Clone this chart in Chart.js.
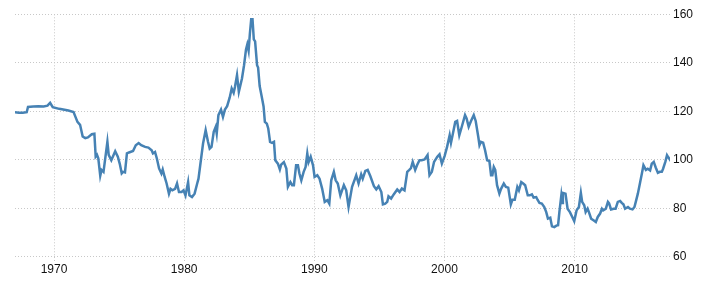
<!DOCTYPE html>
<html lang="en">
<head>
  <meta charset="utf-8">
  <title>Currency index</title>
  <style>
    html, body { margin: 0; padding: 0; background: #fff; }
    #wrap { width: 707px; height: 288px; }
  </style>
</head>
<body>
  <div id="wrap"><canvas id="chart" width="707" height="288"></canvas></div>

  <script src="https://cdn.jsdelivr.net/npm/chart.js@4.4.0/dist/chart.umd.min.js"></script>
  <script>
// values (decimal year, index level)
var years = [
  1967.0, 1967.3, 1967.6, 1967.9, 1968.0, 1968.4, 1968.8, 1969.2, 1969.5, 1969.7, 1969.9,
  1970.4, 1971.1, 1971.5, 1971.6, 1971.8, 1972.0, 1972.2, 1972.4, 1972.6, 1972.9,
  1973.1, 1973.2, 1973.3, 1973.4, 1973.55, 1973.65, 1973.8, 1974.1, 1974.2, 1974.4, 1974.7, 1974.9,
  1975.05, 1975.2, 1975.3, 1975.45, 1975.6, 1975.76, 1976.07, 1976.28, 1976.5, 1976.7,
  1977.0, 1977.25, 1977.5, 1977.6, 1977.76, 1977.9, 1978.07, 1978.25, 1978.35, 1978.5, 1978.65, 1978.83, 1978.95,
  1979.09, 1979.3, 1979.45, 1979.6, 1979.8, 1979.95, 1980.1, 1980.3, 1980.4, 1980.6, 1980.8,
  1981.0, 1981.1, 1981.3, 1981.45, 1981.65, 1981.83, 1981.96, 1982.1, 1982.27, 1982.42, 1982.5, 1982.63, 1982.83, 1982.98,
  1983.13, 1983.3, 1983.5, 1983.65, 1983.8, 1983.9, 1984.06, 1984.2, 1984.44, 1984.6, 1984.75, 1984.85, 1984.95,
  1985.05, 1985.15, 1985.25, 1985.35, 1985.45, 1985.6, 1985.68, 1985.8, 1985.96,
  1986.1, 1986.2, 1986.35, 1986.46, 1986.6, 1986.75, 1986.9, 1987.0, 1987.2, 1987.35, 1987.45, 1987.66, 1987.85, 1987.97,
  1988.16, 1988.3, 1988.43, 1988.6, 1988.74, 1988.85, 1989.0, 1989.18, 1989.33, 1989.46, 1989.56, 1989.72, 1989.9,
  1990.02, 1990.23, 1990.4, 1990.6, 1990.8, 1991.0, 1991.15, 1991.3, 1991.5, 1991.64, 1991.8,
  1992.0, 1992.27, 1992.45, 1992.63, 1992.9, 1993.22, 1993.4, 1993.6, 1993.72, 1993.92,
  1994.1, 1994.3, 1994.58, 1994.76, 1994.94, 1995.15, 1995.27, 1995.45, 1995.6, 1995.7, 1995.9,
  1996.1, 1996.37, 1996.55, 1996.73, 1996.93, 1997.14, 1997.3, 1997.42, 1997.56, 1997.75, 1997.9,
  1998.08, 1998.25, 1998.47, 1998.7, 1998.85, 1999.03, 1999.2, 1999.45, 1999.62, 1999.8,
  2000.01, 2000.2, 2000.4, 2000.5, 2000.65, 2000.83, 2000.97, 2001.14, 2001.33, 2001.58, 2001.7, 2001.86,
  2002.04, 2002.25, 2002.4, 2002.6, 2002.69, 2002.8, 2002.97, 2003.12, 2003.28, 2003.45, 2003.58, 2003.68, 2003.79, 2003.9,
  2004.04, 2004.22, 2004.35, 2004.56, 2004.72, 2004.9, 2005.1, 2005.22, 2005.4, 2005.6, 2005.72, 2005.9,
  2006.05, 2006.2, 2006.4, 2006.55, 2006.72, 2006.85, 2007.05, 2007.15, 2007.3, 2007.48, 2007.67, 2007.82, 2007.95,
  2008.13, 2008.26, 2008.44, 2008.6, 2008.73, 2008.83, 2008.98, 2009.05, 2009.1, 2009.3, 2009.46, 2009.64, 2009.82, 2009.97,
  2010.15, 2010.33, 2010.48, 2010.58, 2010.74, 2010.85, 2011.0, 2011.1, 2011.27, 2011.45, 2011.63, 2011.78, 2011.96,
  2012.1, 2012.2, 2012.4, 2012.56, 2012.65, 2012.8, 2013.0, 2013.15, 2013.32, 2013.5, 2013.62, 2013.75, 2013.88,
  2014.1, 2014.25, 2014.45, 2014.6, 2014.7, 2014.86, 2015.04, 2015.17, 2015.29, 2015.48, 2015.62, 2015.8, 2015.93,
  2016.08, 2016.24, 2016.4, 2016.55, 2016.7, 2016.8, 2016.97, 2017.1, 2017.2, 2017.25
];

var values = [
  119.6, 119.4, 119.4, 119.6, 121.8, 122.0, 122.1, 122.0, 122.3, 123.5, 121.7,
  121.0, 120.3, 119.7, 118.3, 115.6, 114.4, 109.6, 108.9, 109.2, 110.5,
  110.7, 101.3, 102.0, 100.6, 93.4, 95.8, 95.0, 107.4, 102.0, 99.8, 103.5, 101.3,
  98.3, 94.4, 95.0, 94.8, 102.6, 103.0, 103.6, 106.0, 106.9, 106.0,
  105.3, 105.0, 103.9, 102.6, 103.2, 100.5, 96.4, 94.3, 96.0, 92.9, 90.2, 86.0, 88.0,
  87.4, 88.0, 90.2, 86.7, 86.7, 87.4, 85.3, 90.8, 85.3, 84.6, 86.0,
  90.2, 92.2, 100.5, 106.7, 112.2, 107.4, 104.6, 105.3, 111.5, 113.5, 110.8, 118.4, 120.7, 117.7,
  120.7, 122.1, 125.7, 129.4, 127.6, 130.0, 134.9, 128.0, 133.5, 139.0, 145.5, 147.6, 145.0,
  152.1, 158.0, 158.0, 149.7, 148.8, 139.0, 138.0, 130.4, 126.0,
  122.0, 115.6, 114.9, 112.9, 107.4, 107.0, 107.4, 99.8, 98.4, 96.0, 98.0, 99.0, 96.4, 88.8,
  90.8, 89.5, 89.5, 97.7, 97.7, 94.4, 91.5, 95.0, 97.0, 102.6, 99.0, 101.2, 97.7,
  92.9, 93.6, 92.2, 88.1, 82.6, 83.3, 81.9, 91.5, 95.0, 91.5, 90.2,
  85.3, 89.5, 87.4, 80.5, 88.8, 93.6, 90.2, 94.0, 92.2, 95.4,
  95.8, 93.3, 89.1, 87.8, 89.1, 86.7, 81.6, 81.9, 82.6, 84.9, 84.0,
  85.7, 87.7, 86.7, 88.1, 87.4, 95.0, 95.8, 96.5, 99.1, 95.8, 97.8,
  99.8, 99.8, 100.1, 101.9, 93.6, 95.0, 99.1, 101.2, 102.2, 98.4,
  101.5, 105.3, 110.1, 107.0, 110.8, 115.6, 116.0, 110.1, 113.6, 118.4, 117.0, 113.6,
  116.0, 118.4, 116.0, 109.4, 106.0, 107.4, 107.0, 103.9, 99.8, 99.5, 93.6, 93.6, 97.0, 95.8,
  89.5, 86.0, 88.0, 90.2, 88.8, 88.5, 81.6, 83.5, 83.5, 88.8, 87.4, 90.8,
  90.2, 89.5, 85.3, 85.3, 85.7, 84.4, 84.6, 83.5, 82.2, 81.9, 80.5, 78.4, 75.7,
  76.1, 72.5, 72.2, 72.8, 73.0, 78.4, 85.3, 82.2, 86.3, 86.0, 79.8, 78.4, 76.4, 74.7,
  79.1, 80.5, 86.3, 82.6, 81.2, 78.4, 79.8, 78.4, 75.7, 75.0, 74.3, 76.4, 77.8,
  79.8, 79.1, 79.8, 82.6, 82.0, 79.5, 79.8, 79.8, 82.6, 83.0, 82.2, 81.6, 79.8,
  80.5, 79.8, 79.5, 80.5, 82.6, 86.0, 90.8, 94.3, 97.7, 95.8, 96.3, 95.6, 98.4,
  99.1, 96.7, 94.6, 95.0, 95.0, 96.3, 99.1, 101.9, 101.0, 100.6
];

var xTicks = [1970, 1980, 1990, 2000, 2010];
var yTicks = [60, 80, 100, 120, 140, 160];

var points = [];
for (var i = 0; i < years.length; i++) {
  points.push({ x: years[i], y: values[i] });
}

var gridColor = '#c8c8c8';
var fontOpts = { family: "'Liberation Sans', Arial, sans-serif", size: 12 };

new Chart(document.getElementById('chart').getContext('2d'), {
  type: 'line',
  data: {
    datasets: [{
      data: points,
      borderColor: '#4682b4',
      borderWidth: 2.5,
      pointRadius: 0,
      tension: 0,
      fill: false
    }]
  },
  options: {
    responsive: false,
    animation: false,
    devicePixelRatio: 1,
    layout: { padding: { left: 15, top: 14.3, right: 0, bottom: 0 } },
    plugins: { legend: { display: false }, tooltip: { enabled: false } },
    scales: {
      x: {
        type: 'linear',
        min: 1967.0,
        max: 2017.33,
        afterBuildTicks: function (s) { s.ticks = xTicks.map(function (v) { return { value: v }; }); },
        afterFit: function (s) { s.height = 31.3; },
        grid: {
          color: gridColor,
          lineWidth: 1,
          borderDash: [1, 2],
          tickLength: 6,
          tickColor: gridColor,
          tickBorderDash: [1, 2]
        },
        border: { display: false, dash: [1, 2] },
        ticks: {
          padding: 0,
          maxRotation: 0,
          color: '#111',
          font: fontOpts,
          callback: function (v) { return String(v); }
        }
      },
      y: {
        position: 'right',
        min: 60,
        max: 160,
        afterBuildTicks: function (s) { s.ticks = yTicks.map(function (v) { return { value: v }; }); },
        afterFit: function (s) { s.width = 37; },
        grid: {
          color: gridColor,
          lineWidth: 1,
          borderDash: [1, 2],
          drawTicks: false
        },
        border: { display: false, dash: [1, 2] },
        ticks: {
          padding: 3,
          color: '#111',
          font: fontOpts,
          callback: function (v) { return String(v); }
        }
      }
    }
  }
});
  </script>
</body>
</html>
